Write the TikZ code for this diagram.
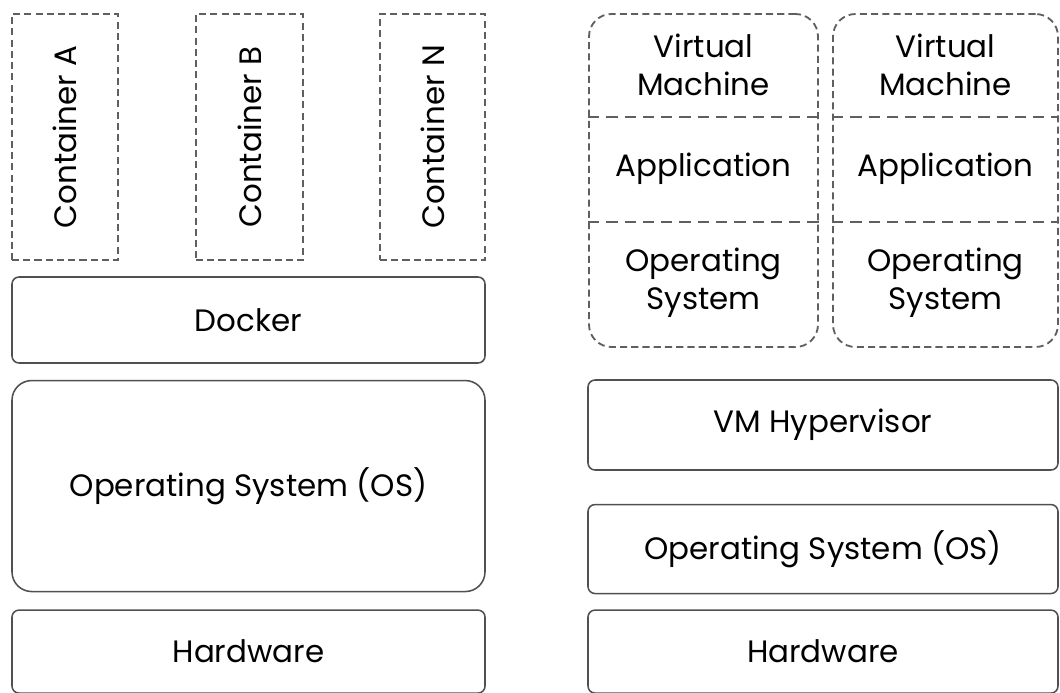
\documentclass[tikz,border=0pt]{standalone}
\usepackage{fontspec}
\setmainfont{Poppins}
\usepackage{tikz}
\usetikzlibrary{positioning, calc}
\definecolor{layEdge}{RGB}{80,80,80}
\definecolor{boxDash}{RGB}{95,95,95}

\begin{document}
\begin{tikzpicture}[
    layer/.style={rectangle, draw=layEdge, line width=1.1pt, rounded corners=5pt, align=center, font=\fontsize{22}{27}\selectfont, inner sep=0pt},
    cont/.style={rectangle, draw=boxDash, line width=1.3pt, dash pattern=on 5pt off 3pt, minimum width=2.65cm, minimum height=6.15cm, font=\fontsize{22}{27}\selectfont, inner sep=0pt},
    vmbox/.style={rectangle, draw=boxDash, line width=1.3pt, dash pattern=on 5pt off 3pt, rounded corners=16pt, minimum height=8.325cm, inner sep=0pt},
    vmtxt/.style={align=center, font=\fontsize{22}{27}\selectfont, inner sep=0pt},
    sep/.style={draw=boxDash, line width=1.4pt, dash pattern=on 8pt off 5pt}
]
\useasboundingbox (0,0) rectangle (26.5,-17.325);

% --- Left: container stack ---
\node[cont] (contA) at (1.625,-3.425) {\rotatebox{90}{Container A}};
\node[cont, minimum width=2.675cm] (contB) at (6.2375,-3.425) {\rotatebox{90}{Container B}};
\node[cont, minimum width=2.625cm] (contN) at (10.8125,-3.425) {\rotatebox{90}{Container N}};

\node[layer, minimum width=11.825cm, minimum height=2.15cm] (docker) at (6.2125,-8.0) {Docker};
\node[layer, rounded corners=14pt, minimum width=11.825cm, minimum height=5.275cm, below=0.4cm of docker] (osL) {Operating System (OS)};
\node[layer, minimum width=11.825cm, minimum height=2.075cm, below=0.425cm of osL] (hwL) {Hardware};

% --- Right: virtual machine stack ---
\node[vmbox, minimum width=5.725cm] (vm1) at (17.5875,-4.5125) {};
\node[vmbox, minimum width=5.625cm] (vm2) at (23.6375,-4.5125) {};

\foreach \v in {vm1,vm2} {
  \node[vmtxt] (\v top) at ($(\v.north)+(0,-1.3)$) {Virtual\\Machine};
  \node[vmtxt] (\v app) at ($(\v.north)+(0,-3.9)$) {Application};
  \node[vmtxt] (\v os) at ($(\v.north)+(0,-6.75)$) {Operating\\System};
  \draw[sep] ($(\v.north west)+(0,-2.6)$) -- ($(\v.north east)+(0,-2.6)$);
  \draw[sep] ($(\v.north west)+(0,-5.225)$) -- ($(\v.north east)+(0,-5.225)$);
}

\node[layer, minimum width=11.75cm, minimum height=2.25cm] (hyper) at (20.575,-10.625) {VM Hypervisor};
\node[layer, minimum width=11.75cm, minimum height=2.225cm, below=0.825cm of hyper] (osR) {Operating System (OS)};
\node[layer, minimum width=11.75cm, minimum height=2.075cm] (hwR) at (osR |- hwL) {Hardware};

\end{tikzpicture}
\end{document}
